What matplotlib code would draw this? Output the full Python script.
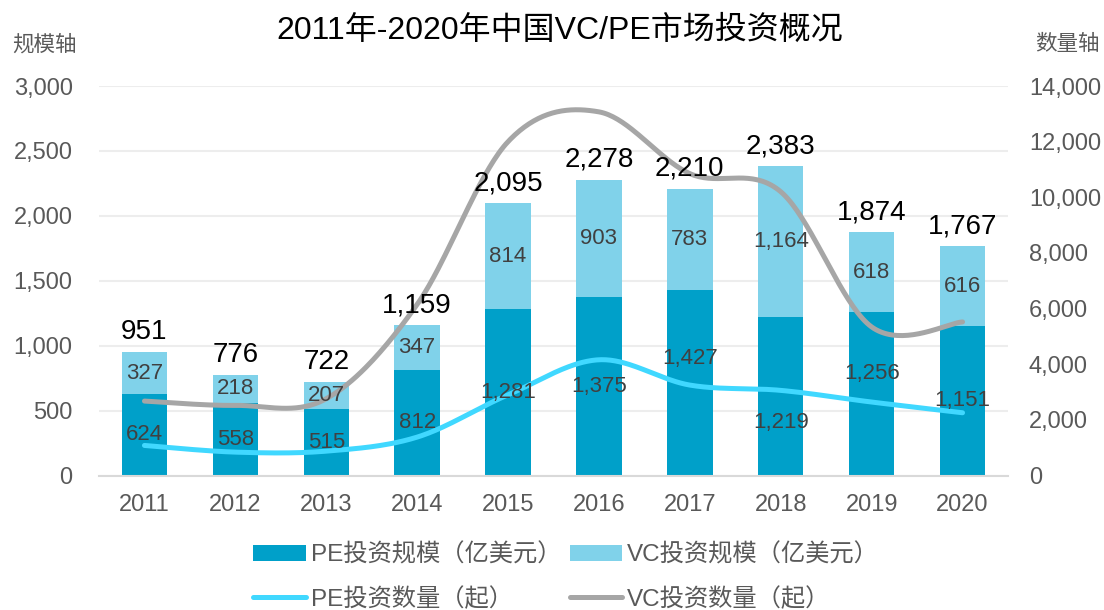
import numpy as np
import matplotlib
matplotlib.use("Agg")
import matplotlib.pyplot as plt
from matplotlib.patches import Patch
from matplotlib.lines import Line2D
from matplotlib.ticker import FuncFormatter

plt.rcParams['font.family'] = ['Liberation Sans', 'Noto Sans CJK SC', 'DejaVu Sans']

# ---------------- data ----------------
years = ['2011', '2012', '2013', '2014', '2015', '2016', '2017', '2018', '2019', '2020']
pe_scale = [624, 558, 515, 812, 1281, 1375, 1427, 1219, 1256, 1151]
vc_scale = [327, 218, 207, 347, 814, 903, 783, 1164, 618, 616]
totals = [951, 776, 722, 1159, 2095, 2278, 2210, 2383, 1874, 1767]
pe_count = [1080, 840, 875, 1380, 2900, 4160, 3250, 3060, 2640, 2255]
vc_count = [2675, 2520, 2760, 6150, 12000, 13070, 10850, 10200, 5340, 5520]
left_ticks = [0, 500, 1000, 1500, 2000, 2500, 3000]
right_ticks = [0, 2000, 4000, 6000, 8000, 10000, 12000, 14000]

title = '2011年-2020年中国VC/PE市场投资概况'
left_axis_name = '规模轴'
right_axis_name = '数量轴'
legend_labels = ['PE投资规模（亿美元）', 'VC投资规模（亿美元）', 'PE投资数量（起）', 'VC投资数量（起）']

# ---------------- style ----------------
C_PE = '#00A0C9'
C_VC = '#80D2EA'
C_PE_LINE = '#40D8FF'
C_VC_LINE = '#A6A6A6'
C_TICK = '#595959'
C_INNER = '#404040'
# manual vertical nudges (px) for PE labels that avoid the lines
pe_label_nudge = [0, 0, 0, 0, 0, 0, 24, -26, 20, 0]


def smooth(xs, ys, n=40):
    pts = np.column_stack([xs, ys]).astype(float)
    out = []
    m = len(pts)
    for i in range(m - 1):
        p0 = pts[i - 1] if i > 0 else pts[i]
        p1 = pts[i]
        p2 = pts[i + 1]
        p3 = pts[i + 2] if i + 2 < m else pts[i + 1]
        c1 = p1 + (p2 - p0) / 6.0
        c2 = p2 - (p3 - p1) / 6.0
        t = np.linspace(0, 1, n)[:, None]
        seg = ((1 - t) ** 3) * p1 + 3 * ((1 - t) ** 2) * t * c1 + 3 * (1 - t) * t ** 2 * c2 + t ** 3 * p2
        out.append(seg if i == 0 else seg[1:])
    out = np.vstack(out)
    return out[:, 0], out[:, 1]


W, H = 1104, 610
fig = plt.figure(figsize=(W / 100, H / 100), dpi=100)
ax_l, ax_r, ax_b, ax_t = 99, 1008, 475.5, 86
ax = fig.add_axes([ax_l / W, 1 - ax_b / H, (ax_r - ax_l) / W, (ax_b - ax_t) / H])
ax2 = ax.twinx()

x = np.arange(len(years))
bw = 0.5
ax.bar(x, pe_scale, bw, color=C_PE, zorder=2)
ax.bar(x, vc_scale, bw, bottom=pe_scale, color=C_VC, zorder=2)

ax.set_xlim(-0.5, len(years) - 0.5)
ax.set_ylim(0, 3000)
ax.set_yticks(left_ticks)
fmt = FuncFormatter(lambda v, p: f'{int(v):,}')
ax.yaxis.set_major_formatter(fmt)
ax.set_xticks(x)
ax.set_xticklabels(years)
ax.grid(axis='y', color='#EDEDED', linewidth=1.5, zorder=0)
ax.set_axisbelow(True)
for s in ['top', 'right', 'left']:
    ax.spines[s].set_visible(False)
ax.spines['bottom'].set_color('#D9D9D9')
ax.spines['bottom'].set_linewidth(1.5)
ax.tick_params(axis='y', length=0, pad=19, labelsize=17, labelcolor=C_TICK)
ax.tick_params(axis='x', length=0, pad=13, labelsize=17, labelcolor=C_TICK)

ax2.set_ylim(0, 14000)
ax2.set_yticks(right_ticks)
ax2.yaxis.set_major_formatter(fmt)
for s in ['top', 'right', 'left', 'bottom']:
    ax2.spines[s].set_visible(False)
ax2.tick_params(axis='y', length=0, pad=15, labelsize=17, labelcolor=C_TICK)

sx, sy = smooth(x, vc_count)
ax2.plot(sx, sy, color=C_VC_LINE, linewidth=3.6, solid_capstyle='round', zorder=3)
sx, sy = smooth(x, pe_count)
ax2.plot(sx, sy, color=C_PE_LINE, linewidth=3.6, solid_capstyle='round', zorder=3)

for i in range(len(years)):
    ax2.annotate(f'{pe_scale[i]:,}', xy=(x[i], pe_scale[i] / 2), xycoords=ax.transData,
                 xytext=(0, pe_label_nudge[i] * 0.72), textcoords='offset points',
                 ha='center', va='center', fontsize=16, color=C_INNER, zorder=5)
    ax2.annotate(f'{vc_scale[i]:,}', xy=(x[i], pe_scale[i] + vc_scale[i] / 2), xycoords=ax.transData,
                 ha='center', va='center', fontsize=16, color=C_INNER, zorder=5)
    ax2.annotate(f'{totals[i]:,}', xy=(x[i], pe_scale[i] + vc_scale[i]), xycoords=ax.transData,
                 xytext=(0, 5), textcoords='offset points',
                 ha='center', va='bottom', fontsize=20, color='black', zorder=5)

fig.text(560 / W, 1 - 31 / H, title, ha='center', va='center', fontsize=23, color='black')
fig.text(12 / W, 1 - 45 / H, left_axis_name, ha='left', va='center', fontsize=15.5, color=C_TICK)
fig.text(1100 / W, 1 - 45 / H, right_axis_name, ha='right', va='center', fontsize=15.5, color=C_TICK)

handles = [Patch(facecolor=C_PE, edgecolor='none'),
           Line2D([0], [0], color=C_PE_LINE, linewidth=3.6, solid_capstyle='round'),
           Patch(facecolor=C_VC, edgecolor='none'),
           Line2D([0], [0], color=C_VC_LINE, linewidth=3.6, solid_capstyle='round')]
labels = [legend_labels[0], legend_labels[2], legend_labels[1], legend_labels[3]]
leg = fig.legend(handles, labels, ncol=2, loc='center', bbox_to_anchor=(566 / W, 1 - 577 / H),
                 frameon=False, fontsize=17.5, labelcolor=C_TICK, handlelength=2.15, handleheight=0.66,
                 handletextpad=0.2, columnspacing=0.35, labelspacing=0.85, borderpad=0.2)

fig.savefig('out.png', dpi=100)
